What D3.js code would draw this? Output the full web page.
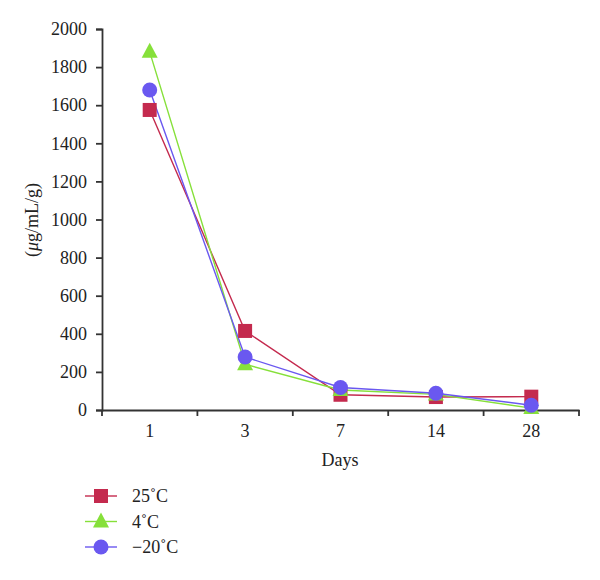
<!DOCTYPE html>
<html><head><meta charset="utf-8">
<script src="https://cdn.jsdelivr.net/npm/d3@7"></script>
<style>body{margin:0;background:#fff}text{font-family:"Liberation Serif","DejaVu Serif",serif;fill:#222}</style>
</head><body><svg id="c" width="600" height="580"></svg>
<script>
const categories = ["1","3","7","14","28"];
const seriesNames = ["25\u02DAC","4\u02DAC","\u221220\u02DAC"];
const s25 = [1575, 415, 80, 68, 70];
const s4 = [1880, 240, 105, 82, 10];
const sm20 = [1680, 278, 118, 88, 25];
const yTicks = [0,200,400,600,800,1000,1200,1400,1600,1800,2000];
const colors = ["#C42A4E","#86E03A","#6A58F0"];
const shapes = ["square","triangle","circle"];
const allSeries = [s25, s4, sm20];

const svg = d3.select("#c");
const L=102, R=579, T=29, B=410;
const x = d3.scaleBand().domain(categories).range([L,R]);
const y = d3.scaleLinear().domain([0,2000]).range([B,T]);

const yAxis = svg.append("g").attr("transform",`translate(${L},0)`)
  .call(d3.axisLeft(y).tickValues(yTicks).tickSize(6).tickPadding(9).tickFormat(d3.format("d")));
yAxis.selectAll("text").style("font-size","18px").attr("fill","#222");
const xAxis = svg.append("g").attr("transform",`translate(0,${B})`)
  .call(d3.axisBottom(x).tickSize(0).tickPadding(14));
xAxis.selectAll("text").style("font-size","18px").attr("fill","#222");
const bounds = categories.map(c=>x(c)).concat([R]);
xAxis.selectAll("line.bt").data(bounds).enter().append("line").attr("class","bt")
  .attr("x1",d=>d).attr("x2",d=>d).attr("y1",0).attr("y2",6);
svg.selectAll(".domain, .tick line, line.bt").attr("stroke","#333").attr("stroke-width",1.8);

svg.append("text").attr("transform",`translate(38,220) rotate(-90)`).attr("text-anchor","middle")
  .style("font-size","18px").html('(<tspan font-style="italic">\u03BC</tspan>g/mL/g)');
svg.append("text").attr("x",340).attr("y",466).attr("text-anchor","middle").style("font-size","18px").text("Days");

function marker(g, shape, color, cx, cy){
  if(shape==="square") g.append("rect").attr("x",cx-7).attr("y",cy-7).attr("width",14).attr("height",14).attr("fill",color);
  else if(shape==="triangle") g.append("path").attr("d",`M${cx},${cy-9}L${cx+8},${cy+6}L${cx-8},${cy+6}Z`).attr("fill",color);
  else g.append("circle").attr("cx",cx).attr("cy",cy).attr("r",7.5).attr("fill",color);
}
const line = d3.line().x((d,i)=>x(categories[i])+x.bandwidth()/2).y(d=>y(d));
allSeries.forEach((s,k)=>{
  svg.append("path").datum(s).attr("d",line).attr("fill","none").attr("stroke",colors[k]).attr("stroke-width",1.4);
});
allSeries.forEach((s,k)=>{
  const g = svg.append("g");
  s.forEach((v,i)=>marker(g, shapes[k], colors[k], x(categories[i])+x.bandwidth()/2, y(v)));
});
seriesNames.forEach((n,k)=>{
  const ly = 496 + k*25.5;
  const g = svg.append("g");
  g.append("line").attr("x1",85).attr("x2",117).attr("y1",ly).attr("y2",ly).attr("stroke",colors[k]).attr("stroke-width",1.4);
  marker(g, shapes[k], colors[k], 101, ly);
  g.append("text").attr("x",132).attr("y",ly+6).style("font-size","18px").text(n);
});
</script></body></html>
